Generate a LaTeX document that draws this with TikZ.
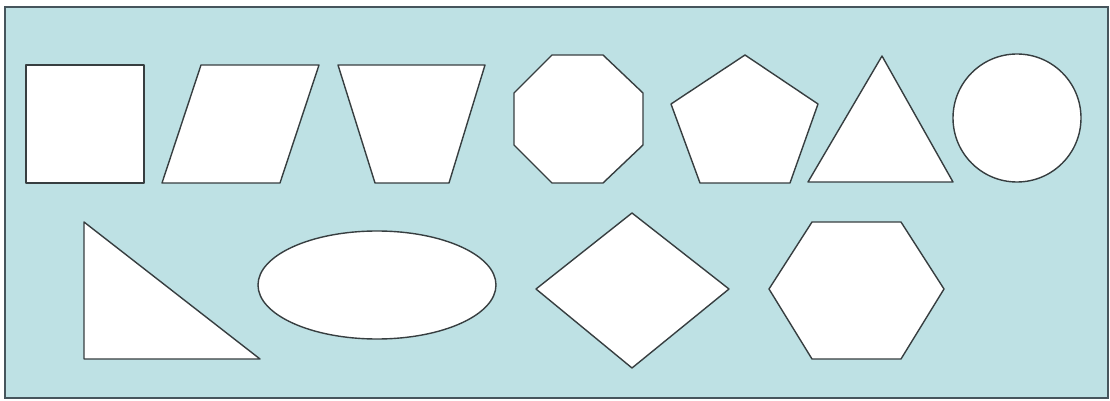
\documentclass[tikz,border=0pt]{standalone}
\usepackage{tikz}
\definecolor{pool}{RGB}{190,225,228}
\definecolor{rim}{RGB}{70,85,92}
\definecolor{edge}{RGB}{55,62,64}
\tikzset{
  panel/.style={fill=pool,draw=rim,line width=1pt},
  shapebox/.style={fill=white,draw=edge,line width=0.7pt,line join=round},
}
\begin{document}
\begin{tikzpicture}[x=0.5pt,y=-0.5pt]
  \useasboundingbox (0,0) rectangle (1110,401);
  \fill[white] (0,0) rectangle (1110,401);
  \draw[panel] (5,7) rectangle (1108,398);
  % first row
  \draw[shapebox] (26,65) rectangle (144,183);
  \draw[shapebox] (162,183) -- (201,65) -- (319,65) -- (280,183) -- cycle;
  \draw[shapebox] (338,65) -- (485,65) -- (449,183) -- (375,183) -- cycle;
  \draw[shapebox] (552,55) -- (603,55) -- (643,93) -- (643,145) -- (603,183)
    -- (552,183) -- (514,145) -- (514,93) -- cycle;
  \draw[shapebox] (745,55) -- (818,104) -- (790,183) -- (700,183) -- (671,104) -- cycle;
  \draw[shapebox] (808,182) -- (882,56) -- (953,182) -- cycle;
  \draw[shapebox] (1017,118) circle [radius=64];
  % second row
  \draw[shapebox] (84,222) -- (84,359) -- (260,359) -- cycle;
  \draw[shapebox] (377,285) ellipse [x radius=119,y radius=54];
  \draw[shapebox] (632,213) -- (729,289) -- (632,368) -- (536,289) -- cycle;
  \draw[shapebox] (812,222) -- (901,222) -- (944,289) -- (901,359) -- (812,359)
    -- (769,289) -- cycle;
\end{tikzpicture}
\end{document}
